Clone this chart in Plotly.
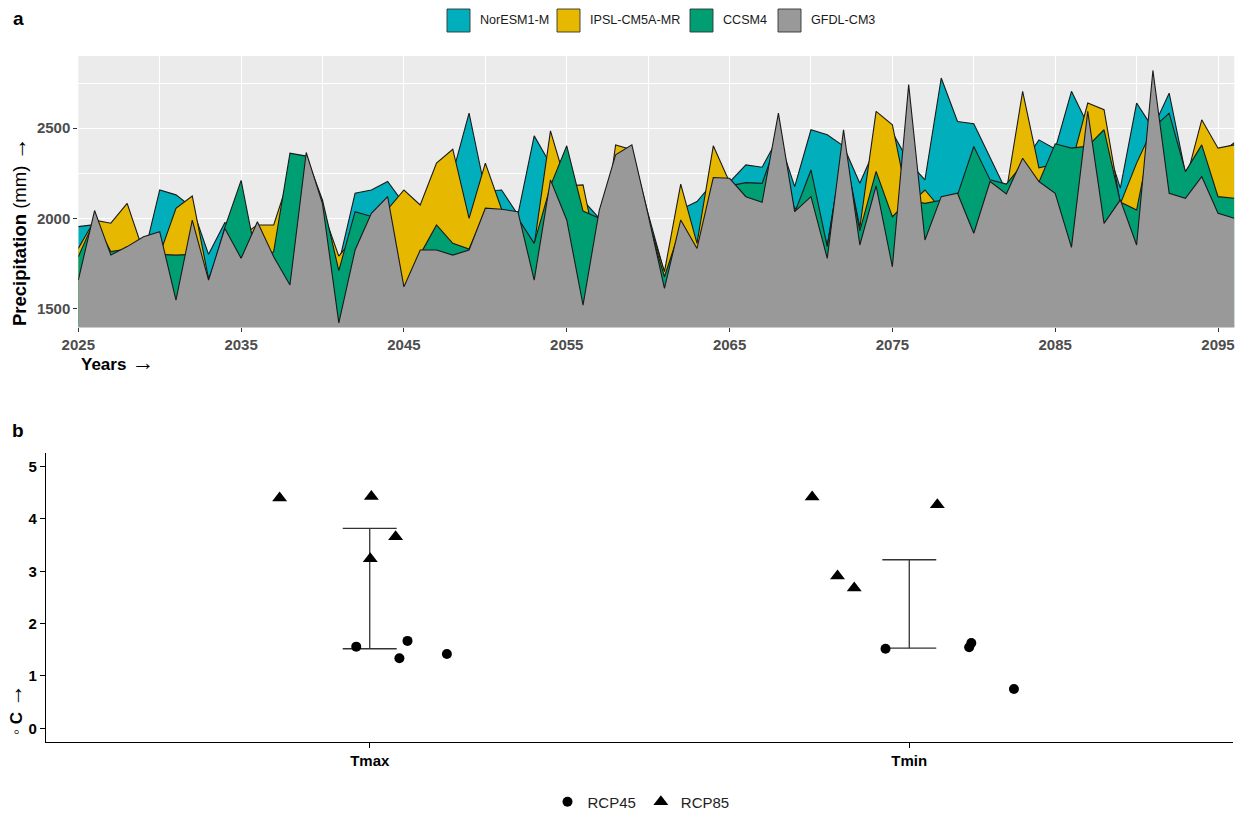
import plotly.graph_objects as go

# ---------------- Panel a data (annual precipitation, mm) ----------------
years = list(range(2025, 2097))

noresm = [1954, 1965, 1900, 1880, 1780, 2157, 2130, 2060, 1800, 1976,
          1950, 1900, 1900, 2200, 2300, 2050, 1750, 2139, 2157, 2204,
          2080, 2000, 2200, 2250, 2583, 2150, 2157, 2020, 2457, 2300,
          2200, 2100, 2000, 2300, 2380, 2025, 1700, 2050, 2093, 2200,
          2200, 2296, 2283, 2450, 2176, 2491, 2463, 2400, 2194, 2400,
          2476, 2313, 2213, 2778, 2537, 2524, 2333, 2150, 2300, 2435,
          2385, 2704, 2519, 2450, 2167, 2639, 2500, 2694, 2250, 2400,
          2350, 2420]
ipsl = [1833, 1990, 1973, 2083, 1815, 1800, 2055, 2124, 1665, 1900,
        1900, 1963, 1963, 2240, 2300, 2050, 1790, 1900, 2000, 2050,
        2157, 2074, 2306, 2383, 2000, 2306, 2050, 2000, 1850, 2485,
        2180, 2185, 1750, 2407, 2380, 1990, 1704, 2190, 1861, 2402,
        2200, 2100, 2100, 2400, 2050, 2150, 1850, 2400, 1950, 2593,
        2519, 2072, 2157, 2050, 2100, 2200, 2150, 2150, 2704, 2280,
        2300, 2300, 2639, 2602, 2080, 2306, 2500, 2450, 2200, 2546,
        2389, 2407]
ccsm4 = [1787, 1990, 1815, 1830, 1880, 1800, 1796, 1800, 1640, 1950,
         2210, 1750, 1815, 2361, 2345, 2100, 1710, 2037, 2010, 2080,
         1600, 1800, 1963, 1861, 1830, 2040, 2030, 2000, 1861, 2180,
         2402, 2040, 2000, 2300, 2350, 1980, 1676, 1950, 1800, 2150,
         2180, 2198, 2194, 2450, 2030, 2268, 1843, 2400, 1930, 2260,
         2009, 2100, 2083, 2100, 2130, 2398, 2213, 2190, 2300, 2200,
         2413, 2389, 2400, 2491, 2090, 2046, 2500, 2583, 2259, 2407,
         2120, 2111]
gfdl = [1657, 2043, 1796, 1843, 1898, 1926, 1546, 1990, 1657, 1944,
        1778, 1981, 1787, 1630, 2365, 2080, 1420, 1824, 2028, 2120,
        1620, 1824, 1824, 1796, 1824, 2056, 2050, 2037, 1657, 2213,
        1991, 1519, 2046, 2352, 2407, 2019, 1611, 1991, 1833, 2226,
        2222, 2120, 2089, 2583, 2037, 2120, 1778, 2491, 1852, 2180,
        1731, 2741, 1880, 2120, 2139, 1917, 2204, 2135, 2333, 2204,
        2139, 1839, 2593, 1972, 2102, 1852, 2820, 2139, 2111, 2231,
        2028, 2000]

models = ["NorESM1-M", "IPSL-CM5A-MR", "CCSM4", "GFDL-CM3"]
model_series = [noresm, ipsl, ccsm4, gfdl]
model_colors = ["#00AFBB", "#E7B800", "#009E73", "#999999"]

x_ticks_a = [2025, 2035, 2045, 2055, 2065, 2075, 2085, 2095]
y_ticks_a = [1500, 2000, 2500]

# ---------------- Panel b data (temperature change, deg C) ----------------
params = ["Tmax", "Tmin"]
rcp45_tmax = [1.56, 1.67, 1.34, 1.42]
rcp45_tmax_jit = [-0.025, 0.070, 0.055, 0.143]
rcp45_tmin = [1.52, 1.55, 1.63, 0.75]
rcp45_tmin_jit = [-0.044, 0.111, 0.115, 0.194]
rcp85_tmax = [4.40, 4.43, 3.66, 3.24]
rcp85_tmax_jit = [-0.167, 0.003, 0.048, 0.001]
rcp85_tmin = [4.42, 2.91, 2.68, 4.27]
rcp85_tmin_jit = [-0.180, -0.133, -0.102, 0.052]
err_low = [1.52, 1.53]
err_high = [3.82, 3.22]
y_ticks_b = [0, 1, 2, 3, 4, 5]

# ---------------- Layout helpers ----------------
W, H = 1244, 813
FONT = "Liberation Sans, Arial, sans-serif"
ARROW = "<span style='font-size:23px'>→</span>"


def px(xp):
    return xp / W


def py(yp):
    return 1 - yp / H


fig = go.Figure()

# panel a: overlapping areas (back to front)
for name, vals, col in zip(models, model_series, model_colors):
    fig.add_trace(go.Scatter(
        x=years, y=vals, name=name, mode="lines", fill="tozeroy",
        fillcolor=col, line=dict(color="#1a1a1a", width=1.1),
        showlegend=False, xaxis="x", yaxis="y"))

# panel b: error bars
pos = [i + 1 for i in range(len(params))]
cap = 0.05
ex, ey = [], []
for p, lo, hi in zip(pos, err_low, err_high):
    ex += [p, p, None, p - cap, p + cap, None, p - cap, p + cap, None]
    ey += [lo, hi, None, lo, lo, None, hi, hi, None]
fig.add_trace(go.Scatter(x=ex, y=ey, mode="lines",
                         line=dict(color="#333333", width=1.3),
                         showlegend=False, hoverinfo="skip",
                         xaxis="x2", yaxis="y2"))

x45 = [pos[0] + j for j in rcp45_tmax_jit] + [pos[1] + j for j in rcp45_tmin_jit]
y45 = rcp45_tmax + rcp45_tmin
x85 = [pos[0] + j for j in rcp85_tmax_jit] + [pos[1] + j for j in rcp85_tmin_jit]
y85 = rcp85_tmax + rcp85_tmin
fig.add_trace(go.Scatter(x=x45, y=y45, mode="markers", name="RCP45",
                         marker=dict(symbol="circle", size=10, color="black"),
                         xaxis="x2", yaxis="y2"))
fig.add_trace(go.Scatter(x=x85, y=y85, mode="markers", name="RCP85",
                         marker=dict(symbol="triangle-up", size=13, color="black"),
                         xaxis="x2", yaxis="y2"))

tickfont_a = dict(family=FONT, size=15, color="#4D4D4D", weight="bold")
tickfont_b = dict(family=FONT, size=15, color="black", weight="bold")

fig.update_layout(
    width=W, height=H, autosize=False,
    margin=dict(l=0, r=0, t=0, b=0, autoexpand=False),
    paper_bgcolor="white", plot_bgcolor="rgba(0,0,0,0)",
    font=dict(family=FONT),
    xaxis=dict(domain=[px(78.3), px(1234.3)], range=[2025, 2096],
               tickvals=x_ticks_a, ticks="outside", ticklen=4,
               tickcolor="#333333", tickfont=tickfont_a,
               showgrid=True, gridcolor="white", gridwidth=1.3,
               minor=dict(dtick=5, tick0=2025, showgrid=True,
                          gridcolor="white", gridwidth=0.6, ticks=""),
               zeroline=False, showline=False, anchor="y",
               automargin=False),
    yaxis=dict(domain=[py(326.5), py(56)], range=[1400, 2900],
               tickvals=y_ticks_a, ticks="outside", ticklen=4,
               tickcolor="#333333", tickfont=tickfont_a,
               showgrid=True, gridcolor="white", gridwidth=1.3,
               minor=dict(dtick=250, tick0=1500, showgrid=True,
                          gridcolor="white", gridwidth=0.6, ticks=""),
               zeroline=False, showline=False, anchor="x",
               automargin=False),
    xaxis2=dict(domain=[px(46), px(1233)], range=[0.4, 2.6],
                tickvals=pos, ticktext=params, ticks="outside", ticklen=5,
                tickcolor="black", tickfont=tickfont_b, showgrid=False,
                zeroline=False, showline=True, linecolor="black",
                linewidth=1.2, anchor="y2", automargin=False),
    yaxis2=dict(domain=[py(741.7), py(453)], range=[-0.256, 5.26],
                tickvals=y_ticks_b, ticks="outside", ticklen=5,
                tickcolor="black", tickfont=tickfont_b, showgrid=False,
                zeroline=False, showline=True, linecolor="black",
                linewidth=1.2, anchor="x2", automargin=False),
    legend=dict(orientation="h", x=px(641), xanchor="center",
                y=py(802), yanchor="middle",
                font=dict(family=FONT, size=15, color="#222222"),
                bgcolor="rgba(0,0,0,0)", itemsizing="trace",
                tracegroupgap=0),
)

shapes = [dict(type="rect", xref="x domain", yref="y domain",
               x0=0, x1=1, y0=0, y1=1, fillcolor="#EBEBEB",
               line=dict(width=0), layer="below"),
          dict(type="line", xref="x domain", yref="y domain",
               x0=0, x1=1, y0=0, y1=0, line=dict(color="#999999", width=2),
               layer="above")]
annotations = []

# manual legend for panel a
key_left = [447, 557, 690, 778]
for name, col, kx in zip(models, model_colors, key_left):
    shapes.append(dict(type="rect", xref="paper", yref="paper",
                       x0=px(kx), x1=px(kx + 23), y0=py(32), y1=py(9),
                       fillcolor=col, line=dict(color="#333333", width=0.9)))
    annotations.append(dict(text=name, xref="paper", yref="paper",
                            x=px(kx + 31), y=py(20.5), xanchor="left",
                            yanchor="middle", showarrow=False,
                            font=dict(family=FONT, size=12.6, color="#1a1a1a")))

annotations += [
    dict(text="<b>a</b>", xref="paper", yref="paper", x=px(18), y=py(18),
         xanchor="center", yanchor="middle", showarrow=False,
         font=dict(family=FONT, size=19, color="black")),
    dict(text="<b>b</b>", xref="paper", yref="paper", x=px(18), y=py(430),
         xanchor="center", yanchor="middle", showarrow=False,
         font=dict(family=FONT, size=19, color="black")),
    dict(text="<b>Years</b> " + ARROW, xref="paper", yref="paper", x=px(79),
         y=py(362), xanchor="left", yanchor="middle", showarrow=False,
         font=dict(family=FONT, size=17, color="black")),
    dict(text="<b>Precipitation</b> (mm) " + ARROW, xref="paper", yref="paper",
         x=px(18), y=py(232), xanchor="center", yanchor="middle",
         textangle=-90, showarrow=False,
         font=dict(family=FONT, size=18.5, color="black")),
    dict(text="◦ <b>C</b> " + ARROW, xref="paper", yref="paper",
         x=px(14), y=py(710), xanchor="center", yanchor="middle",
         textangle=-90, showarrow=False,
         font=dict(family=FONT, size=17, color="black")),
]

fig.update_layout(shapes=shapes, annotations=annotations)

fig.write_html(
    "out.html",
    config={"displayModeBar": False},
    post_script="document.body.style.margin='0px';"
                "document.body.style.overflow='hidden';")
